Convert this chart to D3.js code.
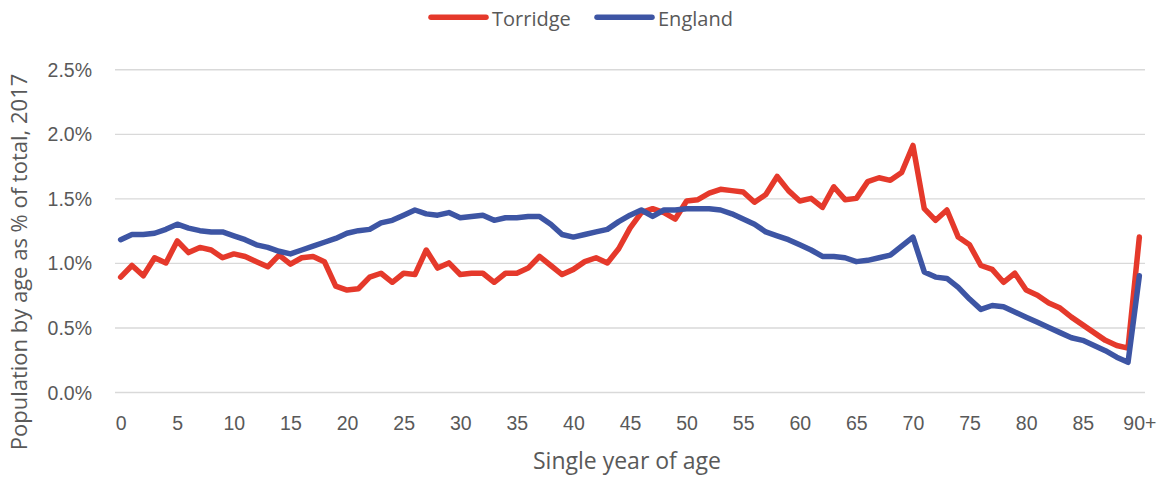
<!DOCTYPE html>
<html>
<head>
<meta charset="utf-8">
<script src="https://cdn.jsdelivr.net/npm/d3@7/dist/d3.min.js"></script>
<style>
  html, body { margin: 0; padding: 0; background: #fff; }
  svg { display: block; font-family: "Open Sans", "Liberation Sans", sans-serif; }
</style>
</head>
<body>
<svg id="chart" width="1162" height="480"></svg>
<script>
// Single year of age, 0 to 89 and an open-ended 90+ group
const ages = d3.range(0, 90).map(String).concat(["90+"]);

// Share of total population at each age, in percent (2017)
const torridge = [
  0.89, 0.98, 0.90, 1.04, 1.00, 1.17, 1.08, 1.12, 1.10, 1.04,
  1.07, 1.05, 1.01, 0.97, 1.06, 0.99, 1.04, 1.05, 1.01, 0.82,
  0.79, 0.80, 0.89, 0.92, 0.85, 0.92, 0.91, 1.10, 0.96, 1.00,
  0.91, 0.92, 0.92, 0.85, 0.92, 0.92, 0.96, 1.05, 0.98, 0.91,
  0.95, 1.01, 1.04, 1.00, 1.11, 1.27, 1.39, 1.42, 1.39, 1.34,
  1.48, 1.49, 1.54, 1.57, 1.56, 1.55, 1.47, 1.53, 1.67, 1.56,
  1.48, 1.50, 1.43, 1.59, 1.49, 1.50, 1.63, 1.66, 1.64, 1.70,
  1.91, 1.42, 1.33, 1.41, 1.20, 1.14, 0.98, 0.95, 0.85, 0.92,
  0.79, 0.75, 0.69, 0.65, 0.58, 0.52, 0.46, 0.40, 0.36, 0.34,
  1.20
];
const england = [
  1.18, 1.22, 1.22, 1.23, 1.26, 1.30, 1.27, 1.25, 1.24, 1.24,
  1.21, 1.18, 1.14, 1.12, 1.09, 1.07, 1.10, 1.13, 1.16, 1.19,
  1.23, 1.25, 1.26, 1.31, 1.33, 1.37, 1.41, 1.38, 1.37, 1.39,
  1.35, 1.36, 1.37, 1.33, 1.35, 1.35, 1.36, 1.36, 1.30, 1.22,
  1.20, 1.22, 1.24, 1.26, 1.32, 1.37, 1.41, 1.36, 1.41, 1.41,
  1.42, 1.42, 1.42, 1.41, 1.38, 1.34, 1.30, 1.24, 1.21, 1.18,
  1.14, 1.10, 1.05, 1.05, 1.04, 1.01, 1.02, 1.04, 1.06, 1.13,
  1.20, 0.93, 0.89, 0.88, 0.81, 0.72, 0.64, 0.67, 0.66, 0.62,
  0.58, 0.54, 0.50, 0.46, 0.42, 0.40, 0.36, 0.32, 0.27, 0.23,
  0.90
];

const yTicks = [0, 0.5, 1.0, 1.5, 2.0, 2.5];
const xTickLabels = ["0","5","10","15","20","25","30","35","40","45",
                     "50","55","60","65","70","75","80","85","90+"];

const series = [
  { name: "Torridge", values: torridge, color: "#E5392B" },
  { name: "England",  values: england,  color: "#3D55A4" }
];

const textColor = "#595959";
const gridColor = "#D9D9D9";

const plot = { left: 115, right: 1145, top: 69.3, bottom: 392 };

const svg = d3.select("#chart");

const x = d3.scalePoint()
  .domain(ages)
  .range([plot.left, plot.right])
  .padding(0.5);

const y = d3.scaleLinear()
  .domain([0, 2.5])
  .range([plot.bottom, plot.top]);

// Horizontal gridlines with percentage labels
const yAxis = d3.axisLeft(y)
  .tickValues(yTicks)
  .tickSize(-(plot.right - plot.left))
  .tickPadding(23)
  .tickFormat(d => d3.format(".1f")(d) + "%");

const gy = svg.append("g")
  .attr("transform", `translate(${plot.left},0)`)
  .call(yAxis);
gy.select(".domain").remove();
gy.selectAll(".tick line")
  .attr("stroke", gridColor)
  .attr("stroke-width", 1.4);
gy.selectAll(".tick text")
  .attr("fill", textColor)
  .attr("font-size", 19.5)
  .attr("dy", "0.36em");

// Age labels every five years
const xAxis = d3.axisBottom(x)
  .tickValues(xTickLabels)
  .tickSize(0)
  .tickPadding(24);

const gx = svg.append("g")
  .attr("transform", `translate(0,${plot.bottom})`)
  .call(xAxis);
gx.select(".domain").remove();
gx.selectAll(".tick text")
  .attr("fill", textColor)
  .attr("font-size", 19.5);

// Series lines
const line = d3.line()
  .x((d, i) => x(ages[i]))
  .y(d => y(d));

svg.append("g")
  .selectAll("path")
  .data(series)
  .join("path")
  .attr("d", d => line(d.values))
  .attr("fill", "none")
  .attr("stroke", d => d.color)
  .attr("stroke-width", 5.5)
  .attr("stroke-linejoin", "round")
  .attr("stroke-linecap", "round");

// Axis titles
svg.append("text")
  .attr("x", (plot.left + plot.right) / 2 - 3)
  .attr("y", 469)
  .attr("text-anchor", "middle")
  .attr("fill", textColor)
  .attr("font-size", 23)
  .text("Single year of age");

svg.append("text")
  .attr("transform", "translate(27,262) rotate(-90)")
  .attr("text-anchor", "middle")
  .attr("fill", textColor)
  .attr("font-size", 22)
  .text("Population by age as % of total, 2017");

// Legend
const legendPos = [431, 597];
const legend = svg.append("g")
  .selectAll("g")
  .data(series)
  .join("g")
  .attr("transform", (d, i) => `translate(${legendPos[i]},17.3)`);

legend.append("line")
  .attr("x1", 0).attr("x2", 55)
  .attr("y1", 0).attr("y2", 0)
  .attr("stroke", d => d.color)
  .attr("stroke-width", 5.5)
  .attr("stroke-linecap", "round");

legend.append("text")
  .attr("x", 61)
  .attr("y", 8.5)
  .attr("fill", textColor)
  .attr("font-size", 20)
  .text(d => d.name);
</script>
</body>
</html>
